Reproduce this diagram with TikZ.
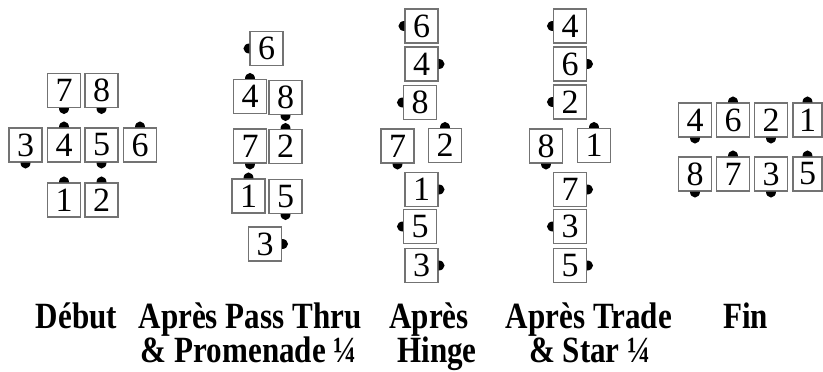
\documentclass[tikz,border=0pt]{standalone}
\usepackage{fontspec}
\setmainfont{Liberation Serif}
\definecolor{boxgray}{gray}{0.45}
\tikzset{
  dbox/.style={draw=boxgray, line width=1.1pt, minimum width=33pt, minimum height=34pt,
    inner sep=0pt, fill=white, font=\fontsize{34}{34}\selectfont},
  narrowbox/.style={minimum width=29pt},
  lbl/.style={anchor=base, inner sep=0pt, font=\fontsize{37}{37}\selectfont\bfseries},
  dancerdot/.style={fill=black}
}
\newcommand\sx[1]{\scalebox{0.84}[1]{#1}}
\newcommand\mydotS[1]{\fill[dancerdot] ([xshift=-5pt]#1.south) arc[start angle=180,end angle=360,x radius=5pt,y radius=6pt] -- cycle;}
\newcommand\mydotN[1]{\fill[dancerdot] ([xshift=-5pt]#1.north) arc[start angle=180,end angle=0,x radius=5pt,y radius=6pt] -- cycle;}
\newcommand\mydotW[1]{\fill[dancerdot] ([yshift=5pt]#1.west) arc[start angle=90,end angle=270,x radius=6pt,y radius=5pt] -- cycle;}
\newcommand\mydotE[1]{\fill[dancerdot] ([yshift=5pt]#1.east) arc[start angle=90,end angle=-90,x radius=6pt,y radius=5pt] -- cycle;}
\newcommand\dancer[6][]{\node[dbox,#1] (#2) at (#3,-#4) {#5}; \csname mydot#6\endcsname{#2}}
\begin{document}
\begin{tikzpicture}[x=1pt,y=1pt]
\useasboundingbox (0,0) rectangle (823,-372);
\clip (0,0) rectangle (823,-372);
% Debut
\dancer{d7}{64}{90.5}{7}{S}
\dancer{d8}{101.5}{90.5}{8}{S}
\dancer{d3}{25.5}{145}{3}{S}
\dancer{d4}{64}{145}{4}{N}
\dancer{d5}{101.5}{145}{5}{S}
\dancer{d6}{140}{145}{6}{N}
\dancer{d1}{64}{200}{1}{N}
\dancer{d2}{101.5}{200}{2}{N}
% Apres Pass Thru
\dancer{p6}{266.5}{48.5}{6}{W}
\dancer{p4}{250}{96.5}{4}{N}
\dancer{p8}{285.5}{97.5}{8}{S}
\dancer{p7}{250}{146}{7}{S}
\dancer{p2}{285.5}{146.5}{2}{N}
\dancer{p1}{248.5}{196}{1}{N}
\dancer{p5}{285.5}{196.5}{5}{S}
\dancer{p3}{265}{244}{3}{E}
% Apres Hinge
\dancer{h6}{421.5}{26}{6}{W}
\dancer{h4}{421.5}{64}{4}{E}
\dancer{h8}{420}{102.5}{8}{W}
\dancer{h7}{397.5}{146}{7}{S}
\dancer{h2}{445}{145.5}{2}{N}
\dancer{h1}{421.5}{189.5}{1}{E}
\dancer{h5}{420}{226.5}{5}{W}
\dancer{h3}{421.5}{265.5}{3}{E}
% Apres Trade & Star
\dancer{s4}{570}{26}{4}{W}
\dancer{s6}{570}{64}{6}{E}
\dancer{s2}{570}{102}{2}{W}
\dancer{s8}{546}{146}{8}{S}
\dancer{s1}{594}{145.5}{1}{N}
\dancer{s7}{570}{189.5}{7}{E}
\dancer{s3}{570}{226.5}{3}{W}
\dancer{s5}{570}{265.5}{5}{E}
% Fin
\dancer{f4}{695}{120}{4}{S}
\dancer{f6}{733}{120}{6}{N}
\dancer{f2}{771}{120}{2}{S}
\dancer[narrowbox]{f1}{807.5}{120}{1}{N}
\dancer{f8}{695}{174}{8}{S}
\dancer{f7}{733}{174}{7}{N}
\dancer{f3}{771}{174}{3}{S}
\dancer[narrowbox]{f5}{807.5}{174}{5}{N}
% labels
\node[lbl] (tDebut) at (76.5,-328) {\sx{Début}};
\node[lbl] (tPassA) at (250,-328) {\sx{Après Pass Thru}};
\node[lbl] (tPassB) at (249,-362) {\sx{\& Promenade ¼}};
\node[lbl] (tHingeA) at (429,-328) {\sx{Après}};
\node[lbl] (tHingeB) at (437,-362) {\sx{Hinge}};
\node[lbl] (tStarA) at (589,-328) {\sx{Après Trade}};
\node[lbl] (tStarB) at (590,-362) {\sx{\& Star ¼}};
\node[lbl] (tFin) at (745.5,-328) {\sx{Fin}};
\end{tikzpicture}
\end{document}
